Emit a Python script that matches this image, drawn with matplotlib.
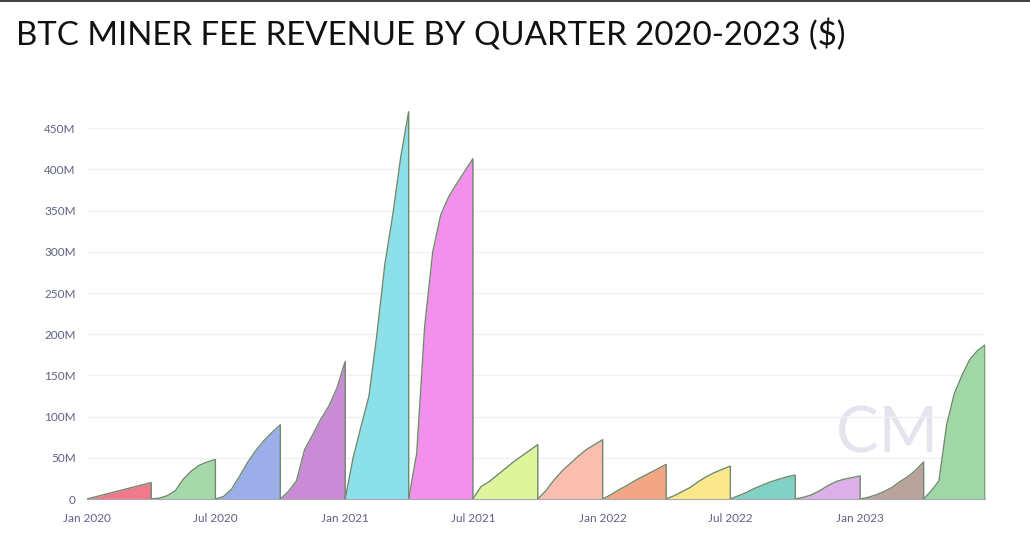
import matplotlib
matplotlib.use('Agg')
import matplotlib.pyplot as plt
import matplotlib.dates as mdates
import pandas as pd
from matplotlib.ticker import FuncFormatter

# cumulative miner fee revenue within each quarter, in $M,
# read at eighths of the quarter (start -> end)
step_frac = [0, 0.125, 0.25, 0.375, 0.5, 0.625, 0.75, 0.875, 1.0]

fees_2020 = [
    [0, 2.5, 5, 7.5, 10, 12.5, 15, 17.5, 20],
    [0, 1, 4, 10, 24, 34, 41, 45, 48],
    [0, 3, 12, 28, 45, 59, 71, 81, 90],
    [0, 9, 22, 60, 78, 97, 113, 135, 167],
]
fees_2021 = [
    [0, 50, 88, 125, 200, 285, 345, 415, 470],
    [0, 55, 210, 300, 345, 367, 383, 398, 413],
    [0, 15, 21, 29, 37, 45, 52, 59, 66],
    [0, 10, 23, 34, 43, 52, 60, 66, 72],
]
fees_2022 = [
    [0, 5, 11, 16, 22, 27, 32, 37, 42],
    [0, 4, 9, 14, 21, 27, 32, 36, 40],
    [0, 4, 8, 13, 17, 21, 24, 27, 29],
    [0, 2, 5, 10, 16, 21, 24, 26, 28],
]
fees_2023 = [
    [0, 2, 5, 9, 14, 21, 27, 35, 45],
    [0, 10, 22, 90, 128, 150, 169, 180, 187],
]

quarter_starts = pd.date_range('2020-01-01', periods=14, freq='QS')
last_day = pd.Timestamp('2023-06-27')

q_colors = ['#f07a8c', '#a5d9a9', '#9caeea', '#c98ad6',
            '#8ce0ea', '#f390ee', '#dff59c', '#fbbdae',
            '#f3a683', '#fbe88a', '#80d2c6', '#dcafe8',
            '#bba39d', '#9fd8a6']

all_fees = fees_2020 + fees_2021 + fees_2022 + fees_2023

plt.rcParams['font.family'] = ['Lato', 'DejaVu Sans']

fig = plt.figure(figsize=(10.3, 5.36), dpi=100)
ax = fig.add_axes([87 / 1030, 37 / 536, 898 / 1030, 395.5 / 536])

for i, vals in enumerate(all_fees):
    start = quarter_starts[i]
    end = quarter_starts[i + 1] if i + 1 < len(quarter_starts) else last_day
    dates = [start + (end - start) * f for f in step_frac]
    y = [v * 1e6 for v in vals]
    ax.fill_between(dates, 0, y, color=q_colors[i], lw=0, zorder=2)
    ax.plot(dates + [dates[-1]], y + [0], color='#6f8a6c', lw=1.0, zorder=3)

ax.set_ylim(0, 480e6)
ax.set_xlim(pd.Timestamp('2020-01-01'), last_day)
ax.set_yticks([i * 50e6 for i in range(10)])
ax.yaxis.set_major_formatter(FuncFormatter(lambda v, p: '0' if v == 0 else f'{int(v / 1e6)}M'))
ax.xaxis.set_major_locator(mdates.MonthLocator(bymonth=[1, 7]))
ax.xaxis.set_major_formatter(mdates.DateFormatter('%b %Y'))

ax.grid(axis='y', color='#f1f1f4', lw=1, zorder=0)
for s in ['top', 'right', 'left']:
    ax.spines[s].set_visible(False)
ax.spines['bottom'].set_color('#a8a8b4')
ax.spines['bottom'].set_zorder(4)
ax.tick_params(length=0, labelsize=8.5, colors='#5e6283')
ax.tick_params(axis='y', pad=8)
ax.tick_params(axis='x', pad=10)

# watermark
ax.text(pd.Timestamp('2023-02-08'), 78e6, 'CM', fontsize=46, color='#e4e4ee',
        ha='center', va='center', zorder=1)

fig.text(16 / 1030, 1 - 35 / 536, 'BTC MINER FEE REVENUE BY QUARTER 2020-2023 ($)',
         fontsize=23.8, color='#111111', va='center', ha='left')
fig.add_artist(plt.Rectangle((0, 1 - 2 / 536), 1, 2 / 536, transform=fig.transFigure,
                             color='#444444', lw=0))

fig.savefig('out.png', dpi=100)
